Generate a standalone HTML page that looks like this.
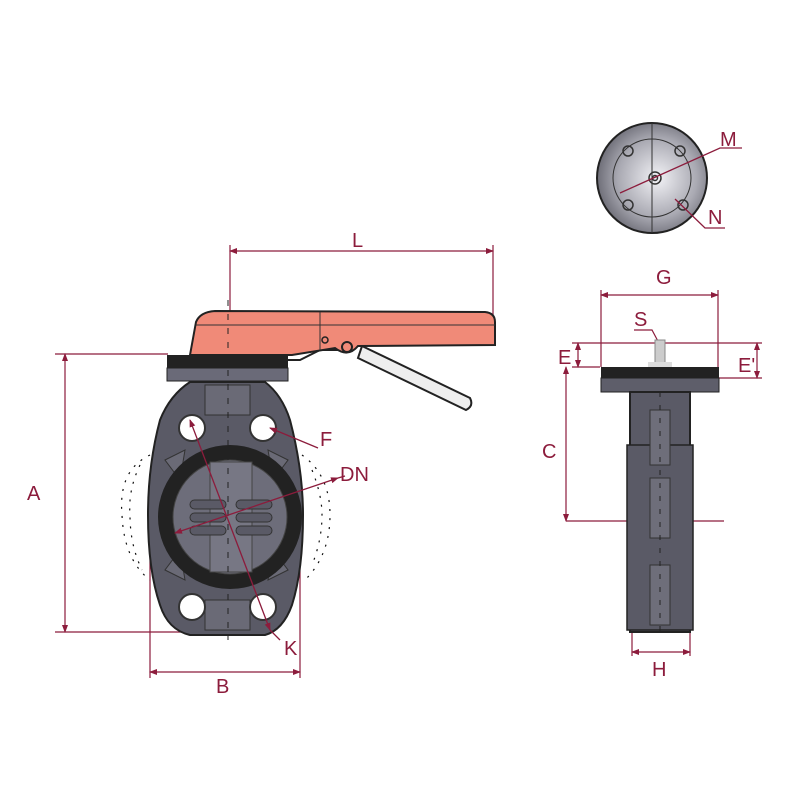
<!DOCTYPE html>
<html><head><style>
html,body{margin:0;padding:0;background:#fff;}
svg{display:block;}
text{font-family:"Liberation Sans",sans-serif;fill:#8c1c3c;font-size:20px;}
</style></head><body>
<svg width="800" height="800" viewBox="0 0 800 800" xmlns="http://www.w3.org/2000/svg">
<defs>
<marker id="ar" markerWidth="8" markerHeight="8" refX="7" refY="4" orient="auto-start-reverse" markerUnits="userSpaceOnUse"><path d="M0,1 L8,4 L0,7 Z" fill="#8c1c3c"/></marker>
<radialGradient id="tg" cx="0.55" cy="0.5" r="0.6"><stop offset="0" stop-color="#f2f2f6"/><stop offset="0.6" stop-color="#a9a9b2"/><stop offset="1" stop-color="#5e5e68"/></radialGradient>
</defs>
<g stroke="#8c1c3c" stroke-width="1.2" fill="none">
<line x1="230" y1="251" x2="493" y2="251" marker-start="url(#ar)" marker-end="url(#ar)"/>
<line x1="230" y1="245" x2="230" y2="315"/><line x1="493" y1="245" x2="493" y2="315"/>
<line x1="65" y1="354" x2="65" y2="632" marker-start="url(#ar)" marker-end="url(#ar)"/>
<line x1="55" y1="354" x2="168" y2="354"/><line x1="55" y1="632" x2="205" y2="632"/>
<line x1="150" y1="672" x2="300" y2="672" marker-start="url(#ar)" marker-end="url(#ar)"/>
<line x1="150" y1="540" x2="150" y2="678"/><line x1="300" y1="550" x2="300" y2="678"/>
</g>
<g stroke="#111" stroke-width="1.2" stroke-dasharray="2 7" fill="none">
<path d="M150,455 Q118,470 122,515 Q124,560 150,580"/>
<path d="M140,465 Q128,490 130,515 Q130,545 142,570"/>
<path d="M302,455 Q330,475 330,515 Q330,555 305,580"/>
<path d="M312,470 Q322,495 322,515 Q322,540 312,565"/>
</g>
<path d="M190,382 L265,382 Q282,395 290,420 Q303,470 303,515 Q303,570 292,605 Q283,630 265,635 L190,635 Q168,630 160,605 Q148,570 148,515 Q148,465 160,420 Q170,395 190,382 Z" fill="#5a5a66" stroke="#222" stroke-width="2"/>
<rect x="205" y="385" width="45" height="30" fill="#6a6a76" stroke="#333"/>
<rect x="205" y="600" width="45" height="30" fill="#6a6a76" stroke="#333"/>
<path d="M165,460 L185,450 L180,480 Z M288,460 L268,450 L273,480 Z M165,570 L185,580 L180,550 Z M288,570 L268,580 L273,550 Z" fill="#6a6a76" stroke="#333"/>
<circle cx="192" cy="428" r="13" fill="#fff" stroke="#333" stroke-width="2"/>
<circle cx="263" cy="428" r="13" fill="#fff" stroke="#333" stroke-width="2"/>
<circle cx="192" cy="607" r="13" fill="#fff" stroke="#333" stroke-width="2"/>
<circle cx="263" cy="607" r="13" fill="#fff" stroke="#333" stroke-width="2"/>
<circle cx="230" cy="517" r="72" fill="#222"/>
<circle cx="230" cy="517" r="57" fill="#6d6d7a" stroke="#444"/>
<rect x="210" y="462" width="42" height="110" fill="#777784" stroke="#444"/>
<g fill="#5a5a66" stroke="#333">
<rect x="190" y="500" width="36" height="9" rx="4.5"/><rect x="236" y="500" width="36" height="9" rx="4.5"/>
<rect x="190" y="513" width="36" height="9" rx="4.5"/><rect x="236" y="513" width="36" height="9" rx="4.5"/>
<rect x="190" y="526" width="36" height="9" rx="4.5"/><rect x="236" y="526" width="36" height="9" rx="4.5"/>
</g>
<rect x="167" y="355" width="121" height="14" fill="#222"/>
<rect x="167" y="368" width="121" height="13" fill="#6a6a78" stroke="#222"/>
<path d="M362,346 L470,398 Q474,406 466,410 L358,358 Z" fill="#eee" stroke="#222" stroke-width="2"/>
<path d="M288,360 L300,360 L320,350 L345,350" fill="none" stroke="#222" stroke-width="2"/>
<path d="M190,355 L196,322 Q200,312 215,311 L485,312 Q495,313 495,322 L495,345 L358,346 Q348,358 335,348 L292,355 Z" fill="#f08a78" stroke="#222" stroke-width="2"/>
<line x1="196" y1="325" x2="495" y2="325" stroke="#333"/>
<line x1="320" y1="312" x2="320" y2="350" stroke="#333"/>
<circle cx="347" cy="347" r="5" fill="none" stroke="#222" stroke-width="2"/>
<circle cx="325" cy="340" r="3" fill="none" stroke="#222" stroke-width="1.5"/>
<line x1="228" y1="300" x2="228" y2="640" stroke="#222" stroke-dasharray="6 8"/>
<g stroke="#8c1c3c" stroke-width="1.3" fill="none">
<line x1="270" y1="428" x2="318" y2="448" marker-start="url(#ar)"/>
<line x1="175" y1="533" x2="338" y2="478" marker-start="url(#ar)" marker-end="url(#ar)"/>
<line x1="338" y1="478" x2="345" y2="476"/>
<line x1="190" y1="420" x2="270" y2="630" marker-start="url(#ar)" marker-end="url(#ar)"/>
<line x1="270" y1="630" x2="280" y2="640"/>
</g>
<text x="320" y="446">F</text>
<text x="340" y="481">DN</text>
<text x="284" y="655">K</text>
<text x="352" y="247">L</text>
<text x="27" y="500">A</text>
<text x="216" y="693">B</text>
<circle cx="652" cy="178" r="55" fill="url(#tg)" stroke="#222" stroke-width="2"/>
<circle cx="652" cy="178" r="39" fill="none" stroke="#333"/>
<line x1="652" y1="123" x2="652" y2="233" stroke="#333"/>
<g fill="none" stroke="#333" stroke-width="1.5">
<circle cx="628" cy="151" r="5"/><circle cx="680" cy="151" r="5"/><circle cx="628" cy="205" r="5"/><circle cx="683" cy="205" r="5"/>
<circle cx="655" cy="178" r="6"/><circle cx="655" cy="178" r="2.5"/></g>
<g stroke="#8c1c3c" stroke-width="1.3" fill="none">
<polyline points="620,193 720,148 742,148"/>
<polyline points="675,199 705,228 725,228"/>
</g>
<text x="720" y="146">M</text>
<text x="708" y="224">N</text>
<g stroke="#8c1c3c" stroke-width="1.2" fill="none">
<line x1="601" y1="295" x2="718" y2="295" marker-start="url(#ar)" marker-end="url(#ar)"/>
<line x1="601" y1="290" x2="601" y2="367"/><line x1="718" y1="290" x2="718" y2="378"/>
<line x1="572" y1="343" x2="762" y2="343"/><line x1="572" y1="367" x2="600" y2="367"/>
<line x1="578" y1="343" x2="578" y2="367" marker-start="url(#ar)" marker-end="url(#ar)"/>
<line x1="718" y1="378" x2="762" y2="378"/>
<line x1="757" y1="343" x2="757" y2="378" marker-start="url(#ar)" marker-end="url(#ar)"/>
<line x1="566" y1="367" x2="566" y2="521" marker-start="url(#ar)" marker-end="url(#ar)"/>
<line x1="566" y1="521" x2="724" y2="521"/>
<line x1="632" y1="652" x2="690" y2="652" marker-start="url(#ar)" marker-end="url(#ar)"/>
<line x1="632" y1="630" x2="632" y2="656"/><line x1="690" y1="630" x2="690" y2="656"/>
<polyline points="634,330 652,330 660,345"/>
</g>
<rect x="655" y="340" width="10" height="24" fill="#ccc" stroke="#888"/>
<rect x="648" y="362" width="24" height="6" fill="#ddd"/>
<rect x="601" y="367" width="118" height="11" fill="#222"/>
<rect x="601" y="378" width="118" height="14" fill="#5e5e6a" stroke="#222"/>
<rect x="630" y="392" width="60" height="240" fill="#5a5a66" stroke="#222" stroke-width="2"/>
<rect x="627" y="445" width="66" height="185" fill="#5a5a66" stroke="#222" stroke-width="1.5"/>
<g fill="#6e6e7a" stroke="#333">
<rect x="650" y="410" width="20" height="55"/><rect x="650" y="478" width="20" height="60"/><rect x="650" y="565" width="20" height="60"/>
</g>
<line x1="660" y1="392" x2="660" y2="632" stroke="#222" stroke-dasharray="5 8"/>
<text x="656" y="284">G</text>
<text x="634" y="326">S</text>
<text x="558" y="364">E</text>
<text x="738" y="372">E'</text>
<text x="542" y="458">C</text>
<text x="652" y="676">H</text>
</svg>
</body></html>
